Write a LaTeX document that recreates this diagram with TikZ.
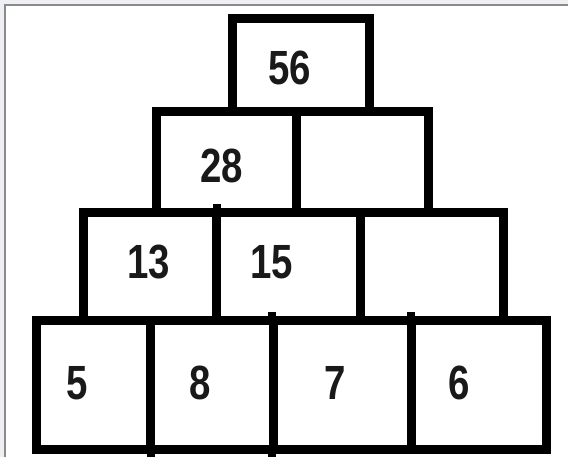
\documentclass[tikz,border=0pt]{standalone}
\usepackage{fontspec}
\setmainfont[FakeStretch=0.8]{Liberation Sans}
\definecolor{framegray}{HTML}{8A8A8A}
\definecolor{stripgray}{HTML}{EEF0F4}
\begin{document}
\begin{tikzpicture}[x=0.75pt,y=-0.75pt,
  box/.style={line width=6.75pt, draw=black},
  tick/.style={line width=5.5pt, draw=black},
  num/.style={font=\bfseries\fontsize{36}{36}\selectfont, inner sep=0pt, text=black!90}]
\useasboundingbox (0,0) rectangle (568,457);
\fill[stripgray] (0,0) rectangle (568,457);
\fill[white] (6,6) rectangle (568,457);
\draw[framegray, line width=1.6pt] (5,457) -- (5,5) -- (568,5);
% row 1
\draw[box] (232,18) rectangle (369,111);
% row 2
\draw[box] (156,111) rectangle (296,212);
\draw[box] (296,111) rectangle (428,212);
% row 3
\draw[box] (83,212) rectangle (216,320);
\draw[box] (216,212) rectangle (360,320);
\draw[box] (360,212) rectangle (503,320);
% row 4
\draw[box] (36,320) rectangle (150,449);
\draw[box] (150,320) rectangle (273,449);
\draw[box] (273,320) rectangle (411,449);
\draw[box] (411,320) rectangle (546,449);
% small overshoots of dividers
\draw[tick] (217,204) -- (217,212);
\draw[tick] (272,312) -- (272,320);
\draw[tick] (411,312) -- (411,320);
\draw[tick] (151,449) -- (151,457);
\draw[tick] (272,449) -- (272,457);
% numbers
\node[num] (n56) at (290,68) {56};
\node[num] (n28) at (222,166) {28};
\node[num] (n13) at (149,262) {13};
\node[num] (n15) at (272,262) {15};
\node[num] (n5) at (77,383) {5};
\node[num] (n8) at (200,383) {8};
\node[num] (n7) at (335,383) {7};
\node[num] (n6) at (459,383) {6};
\end{tikzpicture}
\end{document}
